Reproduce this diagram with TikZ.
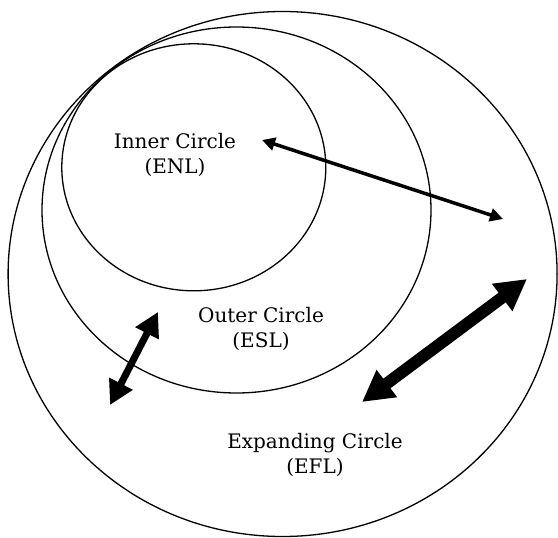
\documentclass[tikz,border=0pt]{standalone}
\usepackage{fontspec}
\setmainfont{DejaVu Serif}
\usetikzlibrary{arrows.meta,positioning}

\begin{document}
\begin{tikzpicture}[
    x=1pt, y=-1pt,
    ring/.style={line width=1.3pt},
    ringtext/.style={font=\fontsize{20}{24.5}\selectfont, align=center},
    thinarrow/.style={{Triangle[length=13pt,width=13pt]}-{Triangle[length=13pt,width=13pt]}, line width=3.5pt},
    midarrow/.style={{Triangle[length=24pt,width=25pt]}-{Triangle[length=24pt,width=25pt]}, line width=7pt},
    bigarrow/.style={{Triangle[length=31pt,width=32pt]}-{Triangle[length=31pt,width=32pt]}, line width=12pt}
]
\useasboundingbox (0,0) rectangle (558,538);

% Expanding circle (largest)
\draw[ring] (282.6,274) ellipse (274.5 and 262.5);

% Outer circle
\draw[ring] (236.5,210) ellipse (194.5 and 183);

% Inner circle
\draw[ring] (193.8,167.3) ellipse (132 and 123.5);

% Labels
\node[ringtext] (enl) at (175,155) {Inner Circle\\(ENL)};
\node[ringtext] (esl) at (261,329) {Outer Circle\\(ESL)};
\node[ringtext] (efl) at (315,455) {Expanding Circle\\(EFL)};

% Arrow ends
\coordinate (enlL) at (262,140);
\coordinate (enlR) at (503,219);
\coordinate (eslT) at (158,312);
\coordinate (eslB) at (110,405);
\coordinate (eflT) at (527,279);
\coordinate (eflB) at (362,402);

% Arrows
\draw[thinarrow] (enlL) -- (enlR);
\draw[midarrow] (eslT) -- (eslB);
\draw[bigarrow] (eflT) -- (eflB);

\end{tikzpicture}
\end{document}
